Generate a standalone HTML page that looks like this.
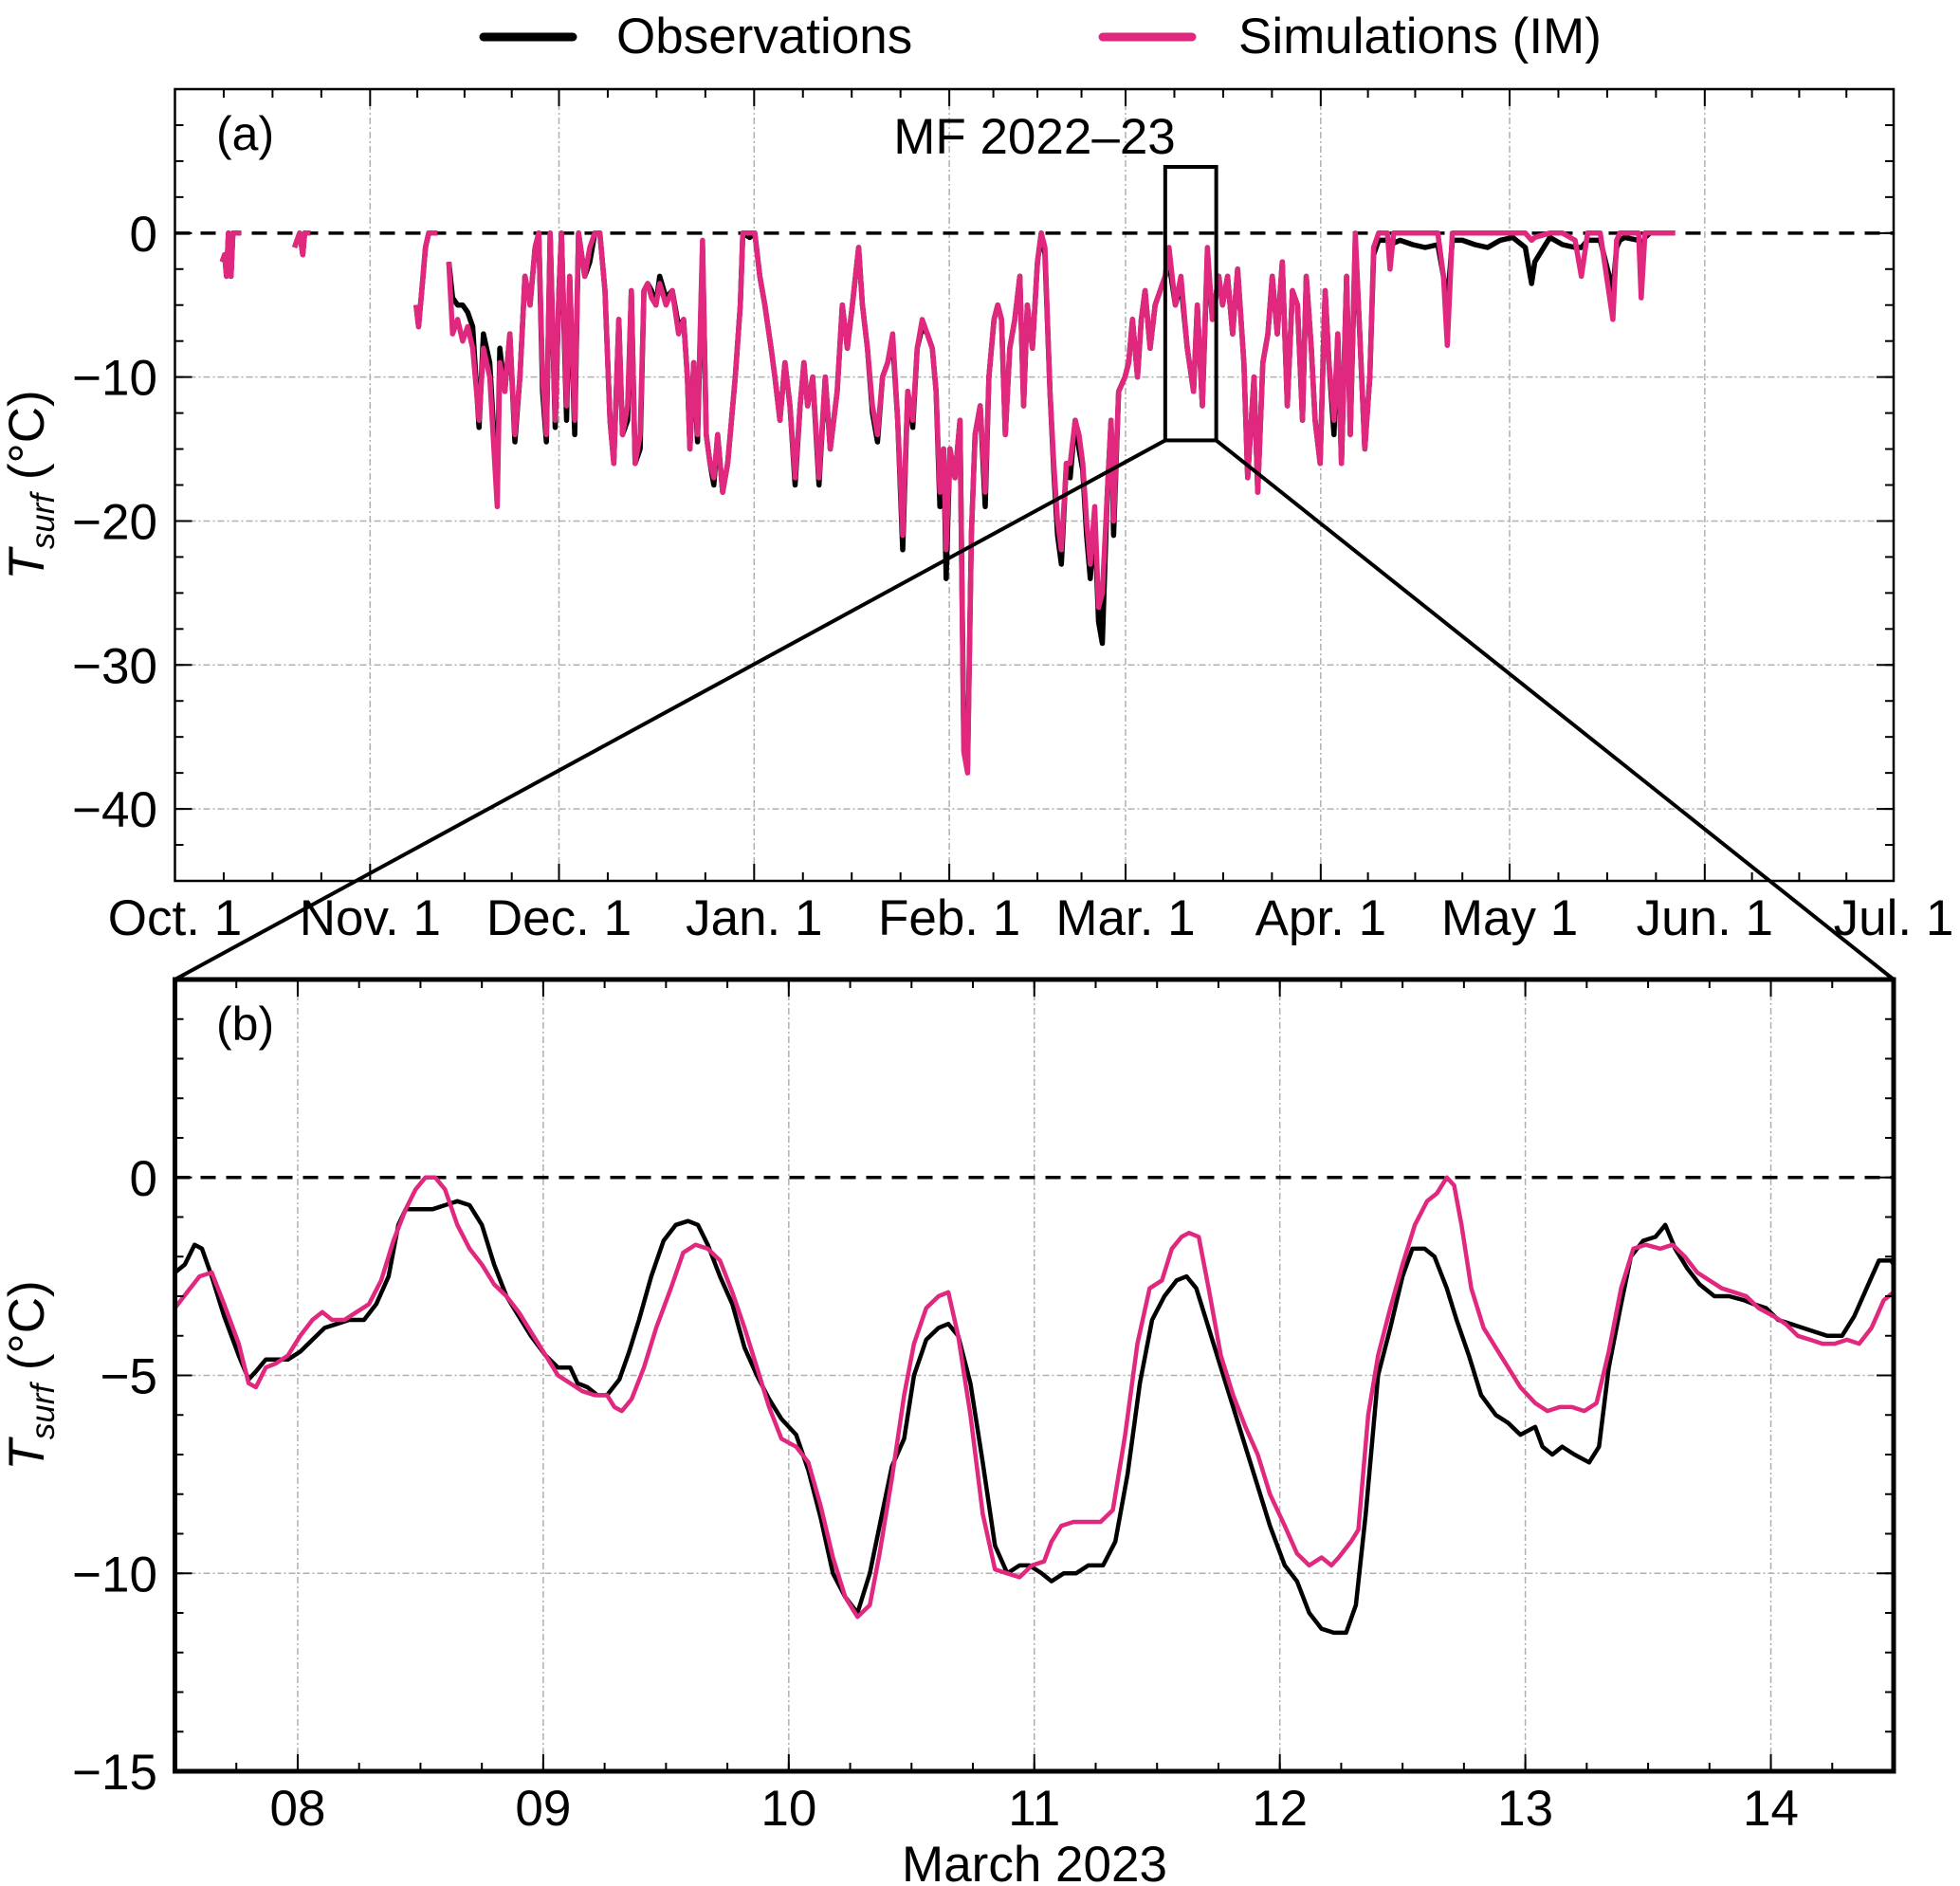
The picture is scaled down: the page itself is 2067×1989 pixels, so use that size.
<!DOCTYPE html>
<html><head><meta charset="utf-8"><style>
html,body{margin:0;padding:0;background:#fff}
svg{display:block}
text{font-family:"Liberation Sans",Arial,sans-serif;fill:#000}
</style></head><body>
<svg id="chart" xmlns="http://www.w3.org/2000/svg" width="2067" height="1989" viewBox="0 0 2067 1989">
<rect width="2067" height="1989" fill="#fff"/>
<g>
<line x1="510" y1="39" x2="604" y2="39" stroke="#000" stroke-width="9" stroke-linecap="round"/>
<text x="650" y="56" font-size="53">Observations</text>
<line x1="1163" y1="39" x2="1257" y2="39" stroke="#e0287f" stroke-width="9" stroke-linecap="round"/>
<text x="1306" y="56" font-size="53">Simulations (IM)</text>
</g>
<g id="pa"></g>
<g id="pb"></g>
<g id="zoomlines"></g>
</svg>
<script>
// ---- Panel (a) data: days since Oct 1, 2022 (null = gap) ----
const aDays=[7.5,7.9,8.2,8.5,8.9,9.2,10.5,null,19.0,19.4,19.8,20.3,20.6,21.5,null,38.3,38.7,39.2,39.8,40.3,41.7,null,
43.5,44.1,44.9,45.7,46.5,47.3,48.3,49.0,50.0,51.2,51.6,52.4,53.2,54.0,54.8,55.6,56.4,57.2,57.8,58.4,59.0,59.6,60.4,61.0,61.4,62.2,62.7,63.5,64.1,65.1,65.9,66.7,67.5,68.3,69.1,69.7,70.5,71.1,71.9,72.5,73.1,73.9,74.5,75.1,75.7,76.4,77.0,78.0,79.0,80.0,80.8,81.4,81.8,82.4,83.0,83.8,84.4,85.0,85.6,86.2,87.0,87.8,88.4,89.0,89.8,90.2,91.3,92.1,92.9,93.7,94.7,95.3,96.1,96.9,97.7,98.5,99.3,99.9,100.5,101.3,102.3,103.3,104.1,105.2,106.0,106.8,107.6,108.6,109.2,110.0,110.8,111.6,112.4,113.2,114.0,114.8,115.6,116.4,117.2,117.9,118.7,119.5,120.3,120.9,121.5,122.1,122.5,123.1,123.9,124.7,125.3,125.9,126.5,127.1,127.9,128.7,129.3,130.1,130.7,131.3,131.9,132.6,133.4,134.2,134.8,135.4,136.2,137.0,137.6,138.2,139.0,139.6,140.2,140.8,141.6,142.2,143.0,143.6,144.2,144.8,145.4,146.1,146.7,147.3,148.1,148.7,149.1,149.9,150.9,151.5,152.1,152.9,153.5,154.1,154.9,155.7,156.5,157.3,157.9,158.9,159.8,160.8,161.8,162.4,163.2,164.0,164.8,165.8,166.4,167.2,168.0,168.8,169.8,170.4,171.4,172.0,172.8,173.6,174.3,175.1,175.9,176.7,177.5,178.3,179.1,179.7,180.5,181.1,181.9,182.7,183.3,184.1,184.7,185.3,186.1,186.7,187.5,188.2,189.0,189.8,190.4,191.2,192.6,193.0,193.6,194.6,196.6,198.6,200.6,201.5,202.1,202.9,204.5,206.5,208.5,210.5,212.5,214.5,215.5,216.0,218.4,220.4,222.4,223.4,224.4,226.4,228.4,229.0,229.5,230.3,232.5,232.9,233.5,234.3,238.3];
const aSim=[-2,-1.5,-3,0,-3,0,0,null,-1,-0.5,0,-1.5,0,0,null,-5,-6.5,-4,-1,0,0,null,
-2,-7,-6,-7.5,-6.5,-8,-13,-8,-10,-19,-9,-11,-7,-14,-10,-3,-5,-1,0,-10,-14,0,-13,-4,0,-12,-3,-13,0,-3,-1,0,0,-4,-13,-16,-6,-14,-12,-4,-16,-14,-4,-3.5,-4.5,-5,-3.5,-5,-4,-7,-6,-10,-15,-9,-14,-0.5,-14,-16,-17,-14,-18,-16,-13,-10,-5,0,0,0,-3,-5,-8,-10,-13,-9,-12,-17,-12,-9,-12,-10,-17,-10,-15,-11,-5,-8,-5,-1,-5,-8,-12,-14,-10,-9,-7,-13,-21,-11,-13,-8,-6,-7,-8,-11,-18,-15,-22,-15,-17,-13,-36,-37.5,-21,-14,-12,-18,-10,-6,-5,-6,-14,-8,-6,-3,-12,-5,-8,-2,0,-1,-11,-16,-20,-22,-16,-16,-13,-14,-16,-20,-23,-19,-26,-25,-18,-13,-20,-11,-10,-9,-6,-10,-6,-4,-8,-5,-4,-3,-1,-5,-3,-8,-11,-5,-12,-1,-6,-3,-5,-3,-7,-2.5,-9,-17,-10,-18,-9,-7,-3,-7,-2,-12,-4,-5,-13,-3,-8,-13,-16,-4,-9,-13,-7,-16,-3,-14,0,-7,-15,-10,-1,0,0,-2.5,0,0,0,0,0,-3,-7.8,0,0,0,0,0,0,0,-0.5,-0.3,0,0,-0.5,-3,0,0,-6,-0.5,0,0,0,-4.5,0,0,0];
const aObs=[-2,-1.5,-3,0,-3,0,0,null,-1,-0.5,0,-1.5,0,0,null,-5,-6.5,-4,-1,0,0,null,
-2,-4.5,-5,-5,-5.5,-6.5,-13.5,-7,-9,-18,-8,-11,-7,-14.5,-10,-3,-5,-1,0,-11,-14.5,0,-13.5,-4,0,-13,-3,-14,0,-3,-2,0,0,-4,-13,-16,-6,-14,-13,-4,-16,-15,-4,-3.5,-4,-5,-3,-4.5,-4,-6.5,-6,-10,-15,-9,-14.5,-1,-14,-16,-17.5,-14,-18,-16,-13,-10,-5,0,-0.3,0,-3,-5,-8,-10,-13,-9,-12,-17.5,-12,-9,-12,-10,-17.5,-10,-15,-11,-5,-8,-5,-1,-5,-8,-12.5,-14.5,-10,-9,-7.5,-13,-22,-11,-13.5,-8,-6.5,-7,-8,-11,-19,-15,-24,-15,-17,-13,-35,-37,-21,-14,-12,-19,-10,-6,-5,-6,-14,-8,-6,-3,-12,-5,-8,-2,0,-1.5,-11,-16.5,-21,-23,-16,-17,-13,-15,-16.5,-21,-24,-20,-27,-28.5,-18,-13,-21,-11,-10,-9,-6,-10,-6,-4,-8,-5,-4,-3,-2,-5,-3.5,-8,-11,-5,-12,-1.5,-6,-3,-5,-3,-7,-2.5,-9,-17,-10,-18,-9,-7,-3,-7,-2,-12,-4,-5,-13,-3,-8,-13,-16,-4,-9,-14,-7,-16,-3,-14,-0.5,-7,-15,-10,-1.5,-0.5,-0.5,-1,-0.7,-0.5,-0.8,-1,-0.8,-3,-5,-0.5,-0.5,-0.8,-1,-0.5,-0.3,-1,-3.5,-2,-0.3,-0.8,-1,-1,-0.5,-0.5,-4,-1,-0.5,-0.3,-0.5,-1,-0.3,0,0];
const aMonthTicks=[0,31,61,92,123,151,182,212,243,273];
const aMonthLabels=["Oct. 1","Nov. 1","Dec. 1","Jan. 1","Feb. 1","Mar. 1","Apr. 1","May 1","Jun. 1","Jul. 1"];
const aYTicks=[0,-10,-20,-30,-40];
// ---- Panel (b) data: day of March 2023 ----
const bObsDays=[7.50,7.54,7.58,7.61,7.65,7.70,7.76,7.80,7.83,7.87,7.91,7.96,8.01,8.06,8.11,8.16,8.21,8.27,8.32,8.37,8.41,8.44,8.48,8.55,8.60,8.65,8.70,8.75,8.80,8.85,8.90,8.95,9.01,9.06,9.11,9.14,9.18,9.22,9.26,9.31,9.35,9.39,9.44,9.49,9.54,9.59,9.63,9.67,9.72,9.77,9.82,9.87,9.92,9.97,10.03,10.08,10.13,10.18,10.23,10.28,10.33,10.38,10.42,10.47,10.51,10.56,10.61,10.65,10.69,10.74,10.79,10.84,10.89,10.94,10.98,11.03,11.07,11.12,11.17,11.22,11.28,11.33,11.38,11.43,11.48,11.53,11.58,11.62,11.66,11.71,11.76,11.81,11.86,11.91,11.96,12.02,12.07,12.12,12.17,12.22,12.27,12.31,12.35,12.40,12.45,12.50,12.54,12.59,12.63,12.68,12.72,12.77,12.82,12.88,12.93,12.98,13.04,13.07,13.11,13.15,13.20,13.26,13.30,13.34,13.39,13.43,13.48,13.53,13.57,13.61,13.66,13.71,13.77,13.83,13.89,13.93,13.98,14.03,14.08,14.13,14.18,14.23,14.29,14.34,14.39,14.44,14.49,14.5];
const bObs=[-2.4,-2.2,-1.7,-1.8,-2.5,-3.5,-4.5,-5.1,-4.9,-4.6,-4.6,-4.6,-4.4,-4.1,-3.8,-3.7,-3.6,-3.6,-3.2,-2.5,-1.2,-0.8,-0.8,-0.8,-0.7,-0.6,-0.7,-1.2,-2.2,-3,-3.5,-4.0,-4.5,-4.8,-4.8,-5.2,-5.3,-5.5,-5.5,-5.1,-4.4,-3.6,-2.5,-1.6,-1.2,-1.1,-1.2,-1.7,-2.5,-3.2,-4.3,-5.0,-5.6,-6.1,-6.5,-7.4,-8.6,-10.0,-10.6,-11.0,-10.0,-8.5,-7.3,-6.6,-5.0,-4.1,-3.8,-3.7,-4.0,-5.2,-7.2,-9.3,-10.0,-9.8,-9.8,-10.0,-10.2,-10.0,-10.0,-9.8,-9.8,-9.2,-7.5,-5.2,-3.6,-3.0,-2.6,-2.5,-2.8,-3.8,-4.8,-5.8,-6.8,-7.8,-8.8,-9.8,-10.2,-11.0,-11.4,-11.5,-11.5,-10.8,-8.5,-5.0,-3.8,-2.5,-1.8,-1.8,-2.0,-2.8,-3.6,-4.5,-5.5,-6.0,-6.2,-6.5,-6.3,-6.8,-7.0,-6.8,-7.0,-7.2,-6.8,-4.8,-3.2,-2.0,-1.6,-1.5,-1.2,-1.8,-2.3,-2.7,-3.0,-3.0,-3.1,-3.2,-3.3,-3.6,-3.7,-3.8,-3.9,-4.0,-4.0,-3.5,-2.8,-2.1,-2.1,-2.2];
const bSimDays=[7.50,7.55,7.60,7.65,7.70,7.76,7.80,7.83,7.87,7.91,7.96,8.01,8.06,8.10,8.14,8.19,8.24,8.29,8.34,8.39,8.44,8.48,8.52,8.56,8.60,8.65,8.70,8.75,8.80,8.85,8.90,8.95,9.01,9.06,9.11,9.16,9.21,9.26,9.29,9.32,9.36,9.41,9.46,9.52,9.57,9.62,9.67,9.72,9.77,9.82,9.87,9.92,9.97,10.03,10.08,10.13,10.18,10.23,10.28,10.33,10.37,10.42,10.47,10.51,10.56,10.61,10.65,10.69,10.74,10.79,10.84,10.89,10.94,10.99,11.04,11.07,11.11,11.16,11.21,11.27,11.32,11.37,11.42,11.47,11.52,11.56,11.60,11.63,11.67,11.71,11.76,11.81,11.86,11.91,11.96,12.02,12.07,12.12,12.17,12.21,12.24,12.29,12.32,12.36,12.40,12.45,12.50,12.55,12.60,12.64,12.68,12.71,12.74,12.78,12.83,12.88,12.93,12.98,13.04,13.09,13.14,13.19,13.24,13.29,13.34,13.39,13.44,13.49,13.55,13.60,13.65,13.70,13.75,13.80,13.85,13.90,13.95,14.01,14.06,14.11,14.16,14.21,14.26,14.31,14.36,14.41,14.46,14.5];
const bSim=[-3.3,-2.9,-2.5,-2.4,-3.2,-4.2,-5.2,-5.3,-4.8,-4.7,-4.5,-4.0,-3.6,-3.4,-3.6,-3.6,-3.4,-3.2,-2.6,-1.6,-0.8,-0.3,0,0,-0.3,-1.2,-1.8,-2.2,-2.7,-3.0,-3.4,-3.9,-4.5,-5.0,-5.2,-5.4,-5.5,-5.5,-5.8,-5.9,-5.6,-4.8,-3.8,-2.8,-1.9,-1.7,-1.8,-2.1,-2.9,-3.8,-4.8,-5.8,-6.6,-6.8,-7.2,-8.3,-9.6,-10.6,-11.1,-10.8,-9.5,-7.6,-5.5,-4.2,-3.3,-3.0,-2.9,-4.0,-6.0,-8.5,-9.9,-10.0,-10.1,-9.8,-9.7,-9.2,-8.8,-8.7,-8.7,-8.7,-8.4,-6.5,-4.2,-2.8,-2.6,-1.8,-1.5,-1.4,-1.5,-2.8,-4.5,-5.5,-6.3,-7.0,-8.0,-8.8,-9.5,-9.8,-9.6,-9.8,-9.6,-9.2,-8.9,-6.0,-4.5,-3.3,-2.2,-1.2,-0.6,-0.4,0,-0.2,-1.2,-2.8,-3.8,-4.3,-4.8,-5.3,-5.7,-5.9,-5.8,-5.8,-5.9,-5.7,-4.4,-2.8,-1.8,-1.7,-1.8,-1.7,-2.0,-2.4,-2.6,-2.8,-2.9,-3.0,-3.3,-3.5,-3.7,-4.0,-4.1,-4.2,-4.2,-4.1,-4.2,-3.8,-3.1,-2.9];
const bDayTicks=[8,9,10,11,12,13,14];
const bDayLabels=["08","09","10","11","12","13","14"];
const bYTicks=[0,-5,-10,-15];
const zoomWindow=[157.3,165.4,4.6,-14.4];

const NS="http://www.w3.org/2000/svg";
const PINK="#e0287f";
function mk(parent,tag,attrs,txt){const e=document.createElementNS(NS,tag);for(const k in attrs)e.setAttribute(k,attrs[k]);if(txt!==undefined)e.textContent=txt;parent.appendChild(e);return e;}

function panel(g,P){
  const sx=v=>P.L+(v-P.x0)/(P.x1-P.x0)*(P.R-P.L);
  const sy=v=>P.T+(P.y1-v)/(P.y1-P.y0)*(P.B-P.T);
  const cid="clip"+P.id;
  const cp=mk(g,"clipPath",{id:cid});mk(cp,"rect",{x:P.L,y:P.T,width:P.R-P.L,height:P.B-P.T});
  P.xMaj.forEach(v=>{if(v>P.x0&&v<P.x1){const l=mk(g,"line",{x1:sx(v),x2:sx(v),y1:P.T,y2:P.B,stroke:"#b0b0b0","stroke-width":1.5,"stroke-dasharray":"7 3 2 3"});
    
    }});
  P.yMaj.forEach(v=>{if(v!==0){const l=mk(g,"line",{x1:P.L,x2:P.R,y1:sy(v),y2:sy(v),stroke:"#b0b0b0","stroke-width":1.5,"stroke-dasharray":"7 3 2 3"});
    
    }});
  const z=mk(g,"line",{x1:P.L,x2:P.R,y1:sy(0),y2:sy(0),stroke:"#000","stroke-width":3.5,"stroke-dasharray":"16 11"});
  
  
  function series(days,vals,col,name){
    let d="",pen=false;
    for(let i=0;i<days.length;i++){
      if(days[i]===null||vals[i]===null){pen=false;continue;}
      d+=(pen?"L":"M")+sx(days[i]).toFixed(1)+" "+sy(vals[i]).toFixed(1);pen=true;}
    const p=mk(g,"path",{d:d,fill:"none",stroke:col,"stroke-width":P.lw,"stroke-linejoin":"round","clip-path":"url(#"+cid+")"});
    
    
  }
  series(P.obsD,P.obs,"#000","observations-line");
  series(P.simD,P.sim,PINK,"simulations-line");
  const tk=mk(g,"g",{stroke:"#000","stroke-width":2});
  
  
  P.xMin.forEach(v=>{const x=sx(v);mk(tk,"line",{x1:x,x2:x,y1:P.B,y2:P.B-9});mk(tk,"line",{x1:x,x2:x,y1:P.T,y2:P.T+9});});
  P.xMaj.forEach(v=>{const x=sx(v);mk(tk,"line",{x1:x,x2:x,y1:P.B,y2:P.B-18});mk(tk,"line",{x1:x,x2:x,y1:P.T,y2:P.T+18});});
  P.yMin.forEach(v=>{const y=sy(v);mk(tk,"line",{x1:P.L,x2:P.L+9,y1:y,y2:y});mk(tk,"line",{x1:P.R,x2:P.R-9,y1:y,y2:y});});
  P.yMaj.forEach(v=>{const y=sy(v);mk(tk,"line",{x1:P.L,x2:P.L+18,y1:y,y2:y});mk(tk,"line",{x1:P.R,x2:P.R-18,y1:y,y2:y});});
  const fr=mk(g,"rect",{x:P.L,y:P.T,width:P.R-P.L,height:P.B-P.T,fill:"none",stroke:"#000","stroke-width":P.fw});
  
  
  P.xMaj.forEach((v,i)=>{const t=mk(g,"text",{x:sx(v),y:P.B+P.xlDy,"font-size":53,"text-anchor":"middle"},P.xLab[i]);
    
    });
  P.yLab.forEach(v=>{const t=mk(g,"text",{x:166,y:sy(v)+19,"font-size":53,"text-anchor":"end"},v===0?"0":"\u2212"+Math.abs(v));
    
    });
  const yl=mk(g,"text",{x:0,y:0,"font-size":53,"text-anchor":"middle",transform:"translate(46,"+((P.T+P.B)/2)+") rotate(-90)"});
  
  
  mk(yl,"tspan",{"font-style":"italic"},"T");
  mk(yl,"tspan",{"font-style":"italic","font-size":35,dy:11},"surf");
  mk(yl,"tspan",{dy:-11}," (\u00b0C)");
  const pl=mk(g,"text",{x:228,y:P.T+64,"font-size":50},P.tag);
  
  
  return {sx,sy};
}
const aXMin=[];aMonthTicks.forEach((m,i)=>{if(i<aMonthTicks.length-1){const w=(aMonthTicks[i+1]-m)/4;for(let k=1;k<4;k++)aXMin.push(m+k*w);}});
const aYMin=[];for(let v=-45;v<=10;v+=2.5)aYMin.push(v);
const A=panel(document.getElementById("pa"),{id:"a",L:184.5,R:1997,T:94,B:929,x0:0,x1:273,y0:-45,y1:10,lw:5.5,fw:2.5,
  obsD:aDays,obs:aObs,simD:aDays,sim:aSim,xMaj:aMonthTicks,xMin:aXMin,xLab:aMonthLabels,yMaj:[10,0,-10,-20,-30,-40],yMin:aYMin,yLab:aYTicks,xlDy:57,tag:"(a)"});
const mf=mk(document.getElementById("pa"),"text",{x:1091,y:162,"font-size":53,"text-anchor":"middle"},"MF 2022\u201323");


const zb=mk(document.getElementById("pa"),"rect",{x:A.sx(zoomWindow[0]),y:A.sy(zoomWindow[2]),width:A.sx(zoomWindow[1])-A.sx(zoomWindow[0]),height:A.sy(zoomWindow[3])-A.sy(zoomWindow[2]),fill:"none",stroke:"#000","stroke-width":4});


const bXMin=[];for(let v=7.5;v<=14.5;v+=0.25)bXMin.push(v);
const bYMin=[];for(let v=-15;v<=5;v+=1)bYMin.push(v);
panel(document.getElementById("pb"),{id:"b",L:184.5,R:1997,T:1033,B:1868,x0:7.5,x1:14.5,y0:-15,y1:5,lw:4.5,fw:5,
  obsD:bObsDays,obs:bObs,simD:bSimDays,sim:bSim,xMaj:bDayTicks,xMin:bXMin,xLab:bDayLabels,yMaj:[5,0,-5,-10,-15],yMin:bYMin,yLab:bYTicks,xlDy:57,tag:"(b)"});
const mt=mk(document.getElementById("pb"),"text",{x:1091,y:1984,"font-size":53,"text-anchor":"middle"},"March 2023");


const zl=document.getElementById("zoomlines");
const c1=mk(zl,"line",{x1:A.sx(zoomWindow[0]),y1:A.sy(zoomWindow[3]),x2:184.5,y2:1033,stroke:"#000","stroke-width":4});


const c2=mk(zl,"line",{x1:A.sx(zoomWindow[1]),y1:A.sy(zoomWindow[3]),x2:1997,y2:1033,stroke:"#000","stroke-width":4});


</script>
</body></html>
